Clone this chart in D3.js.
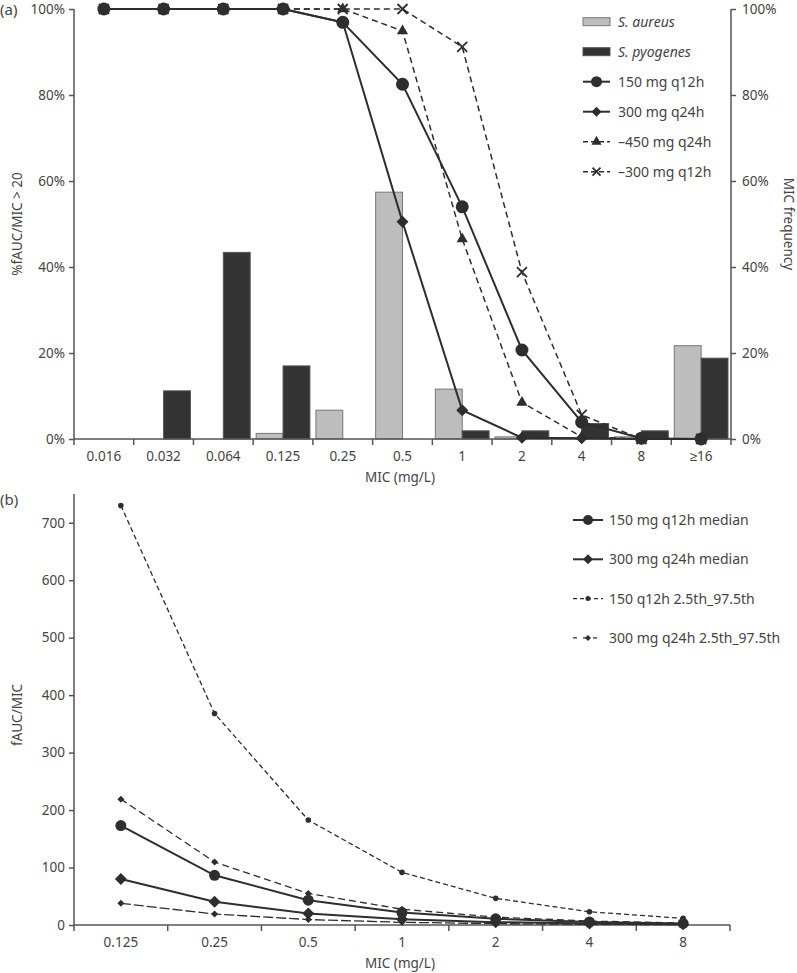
<!DOCTYPE html>
<html>
<head>
<meta charset="utf-8">
<script src="https://cdn.jsdelivr.net/npm/d3@7"></script>
<style>
  body { margin: 0; background: #fff; }
  svg text { font-family: "Noto Sans", "Open Sans", sans-serif; fill: #444; }
</style>
</head>
<body>
<div id="chart"></div>
<script>
// ---- panel (a) data ----
var micA = ["0.016", "0.032", "0.064", "0.125", "0.25", "0.5", "1", "2", "4", "8", "≥16"];
var aureus   = [0, 0, 0, 1.3, 6.7, 57.4, 11.6, 0.5, 0.3, 0.5, 21.7];
var pyogenes = [0, 11.2, 43.4, 17.0, 0, 0, 1.9, 1.9, 3.6, 1.9, 18.8];
var q12h150 = [100, 100, 100, 100, 96.9, 82.5, 54.0, 20.7, 3.9, 0.2, 0];
var q24h300 = [100, 100, 100, 100, 96.9, 50.5, 6.7, 0.3, 0.2, 0, 0];
var q24h450 = [100, 100, 100, 100, 100, 94.9, 46.5, 8.5, 0.5, 0, 0];
var q12h300 = [100, 100, 100, 100, 100, 100, 91.2, 38.8, 5.6, 0, 0];
var pctTicks = [0, 20, 40, 60, 80, 100];

// ---- panel (b) data ----
var micB = ["0.125", "0.25", "0.5", "1", "2", "4", "8"];
var med150 = [173, 86.5, 43.2, 21.6, 10.8, 5.4, 2.7];
var med300 = [80, 40.5, 20, 10, 5, 2.5, 1.25];
var pct150hi = [730, 368, 182.6, 91.6, 46.4, 23, 11.5];
var pct300hi = [219, 109.6, 55, 27.5, 13.7, 6.9, 3.4];
var pct300lo = [37.7, 19, 9.5, 4.7, 2.4, 1.2, 0.6];
var aucTicks = [0, 100, 200, 300, 400, 500, 600, 700];

var ink = "#2e2e2e", axisCol = "#555";

var svg = d3.select("#chart").append("svg")
    .attr("width", 797)
    .attr("height", 973);

// symbols
function marker(g, type, x, y, size) {
    if (type === "circle") {
        g.append("circle").attr("cx", x).attr("cy", y).attr("r", size).style("fill", ink);
    } else if (type === "cross") {
        g.append("path")
            .attr("d", "M" + (x - size) + "," + (y - size) + "L" + (x + size) + "," + (y + size) +
                       "M" + (x - size) + "," + (y + size) + "L" + (x + size) + "," + (y - size))
            .style("stroke", ink).style("stroke-width", 1.8).style("fill", "none");
    } else if (type === "diamond") {
        g.append("path")
            .attr("d", "M" + x + "," + (y - size) + "L" + (x + size) + "," + y +
                       "L" + x + "," + (y + size) + "L" + (x - size) + "," + y + "Z")
            .style("fill", ink);
    } else {
        g.append("path")
            .attr("transform", "translate(" + x + "," + y + ")")
            .attr("d", d3.symbol().type(d3.symbolTriangle).size(size * size * 2.2)())
            .style("fill", ink);
    }
}

// ================= PANEL (a) =================
var xA = d3.scaleBand().domain(micA).range([74, 731]);
var yA = d3.scaleLinear().domain([0, 100]).range([439, 9]);
var bw = xA.bandwidth();

var pa = svg.append("g").attr("class", "panelA");

// bars
pa.selectAll("rect.aur").data(micA).enter().append("rect")
    .attr("class", "aur")
    .attr("x", function(d) { return xA(d) + 3; })
    .attr("width", bw / 2 - 3)
    .attr("y", function(d, i) { return yA(aureus[i]); })
    .attr("height", function(d, i) { return yA(0) - yA(aureus[i]); })
    .style("fill", "#bdbdbd").style("stroke", "#777").style("stroke-width", 1)
    .style("display", function(d, i) { return aureus[i] > 0 ? null : "none"; });

pa.selectAll("rect.pyo").data(micA).enter().append("rect")
    .attr("class", "pyo")
    .attr("x", function(d) { return xA(d) + bw / 2; })
    .attr("width", bw / 2 - 3)
    .attr("y", function(d, i) { return yA(pyogenes[i]); })
    .attr("height", function(d, i) { return yA(0) - yA(pyogenes[i]); })
    .style("fill", "#333").style("stroke", "#555").style("stroke-width", 1)
    .style("display", function(d, i) { return pyogenes[i] > 0 ? null : "none"; });

// axes (a)
var leftA = pa.append("g").attr("transform", "translate(74,0)")
    .call(d3.axisLeft(yA).tickValues(pctTicks).tickSize(5).tickPadding(4)
        .tickFormat(function(d) { return d + "%"; }));
var rightA = pa.append("g").attr("transform", "translate(731,0)")
    .call(d3.axisRight(yA).tickValues(pctTicks).tickSize(5).tickPadding(6)
        .tickFormat(function(d) { return d + "%"; }));
leftA.select(".domain").attr("d", "M0,9V439");
rightA.select(".domain").attr("d", "M0,9V439");

var bottomA = pa.append("g").attr("transform", "translate(0,439)")
    .call(d3.axisBottom(xA).tickSize(0).tickPadding(12));
bottomA.select(".domain").attr("d", "M74,0H731");
pa.selectAll("line.bnd").data(micA.concat(["end"])).enter().append("line")
    .attr("class", "bnd")
    .attr("x1", function(d) { return d === "end" ? 731 : xA(d); })
    .attr("x2", function(d) { return d === "end" ? 731 : xA(d); })
    .attr("y1", 439).attr("y2", 445)
    .style("stroke", axisCol).style("stroke-width", 1.5);

// lines (a)
var cx = function(d, i) { return xA(micA[i]) + bw / 2; };
var lineA = d3.line().x(cx).y(function(d) { return yA(d); });
var seriesA = [
    { v: q12h300, m: "cross", dash: "6,4", s: 5 },
    { v: q24h450, m: "triangle", dash: "6,4", s: 5 },
    { v: q24h300, m: "diamond", dash: null, s: 6 },
    { v: q12h150, m: "circle", dash: null, s: 6.5 }
];
seriesA.forEach(function(s) {
    pa.append("path").datum(s.v).attr("d", lineA)
        .style("fill", "none").style("stroke", ink)
        .style("stroke-width", s.dash ? 1.5 : 2)
        .style("stroke-dasharray", s.dash);
});
seriesA.forEach(function(s) {
    s.v.forEach(function(d, i) { marker(pa, s.m, cx(d, i), yA(d), s.s); });
});

// legend (a)
var legA = [
    { t: "S. aureus", k: "bar", c: "#bdbdbd", sc: "#777" },
    { t: "S. pyogenes", k: "bar", c: "#333", sc: "#555" },
    { t: "150 mg q12h", k: "circle", dash: null, s: 5.5 },
    { t: "300 mg q24h", k: "diamond", dash: null, s: 5 },
    { t: "–450 mg q24h", k: "triangle", dash: "5,3", s: 4.5 },
    { t: "–300 mg q12h", k: "cross", dash: "5,3", s: 4 }
];
legA.forEach(function(l, i) {
    var y = 21.7 + i * 30;
    if (l.k === "bar") {
        pa.append("rect").attr("x", 583).attr("y", y - 4).attr("width", 27).attr("height", 8)
            .style("fill", l.c).style("stroke", l.sc);
    } else {
        pa.append("line").attr("x1", 583).attr("x2", 610).attr("y1", y).attr("y2", y)
            .style("stroke", ink).style("stroke-width", l.dash ? 1.5 : 2)
            .style("stroke-dasharray", l.dash);
        marker(pa, l.k, 596.5, y, l.s);
    }
    pa.append("text").attr("x", 618).attr("y", y).attr("dy", "0.35em")
        .style("font-size", "14px").style("font-style", l.k === "bar" ? "italic" : null)
        .text(l.t);
});

// labels (a)
pa.append("text").attr("x", 0).attr("y", 15).style("font-size", "15px").text("(a)");
pa.append("text").attr("transform", "translate(22,224) rotate(-90)")
    .attr("text-anchor", "middle").style("font-size", "13.5px").text("%fAUC/MIC > 20");
pa.append("text").attr("transform", "translate(784,224) rotate(90)")
    .attr("text-anchor", "middle").style("font-size", "13.5px").text("MIC frequency");
pa.append("text").attr("x", 400).attr("y", 482).attr("text-anchor", "middle")
    .style("font-size", "13.5px").text("MIC (mg/L)");

// ================= PANEL (b) =================
var xB = d3.scaleBand().domain(micB).range([74, 730]);
var yB = d3.scaleLinear().domain([0, 750]).range([925, 494]);
var bwB = xB.bandwidth();
var pb = svg.append("g").attr("class", "panelB");

var leftB = pb.append("g").attr("transform", "translate(74,0)")
    .call(d3.axisLeft(yB).tickValues(aucTicks).tickSize(5).tickPadding(4));
leftB.select(".domain").attr("d", "M0,494V925");
var bottomB = pb.append("g").attr("transform", "translate(0,925)")
    .call(d3.axisBottom(xB).tickSize(0).tickPadding(12));
bottomB.select(".domain").attr("d", "M74,0H730");
pb.selectAll("line.bnd").data(micB.concat(["end"])).enter().append("line")
    .attr("class", "bnd")
    .attr("x1", function(d) { return d === "end" ? 730 : xB(d); })
    .attr("x2", function(d) { return d === "end" ? 730 : xB(d); })
    .attr("y1", 925).attr("y2", 931)
    .style("stroke", axisCol).style("stroke-width", 1.5);

var cxB = function(d, i) { return xB(micB[i]) + bwB / 2; };
var lineB = d3.line().x(cxB).y(function(d) { return yB(d); });
var seriesB = [
    { v: pct150hi, m: "circle", dash: "5,3", s: 2.8, w: 1.3 },
    { v: pct300hi, m: "diamond", dash: "7,4", s: 3.5, w: 1.3 },
    { v: pct300lo, m: "diamond", dash: "10,3", s: 3.5, w: 1.3 },
    { v: med300, m: "diamond", dash: null, s: 6, w: 2 },
    { v: med150, m: "circle", dash: null, s: 5.5, w: 2 }
];
seriesB.forEach(function(s) {
    pb.append("path").datum(s.v).attr("d", lineB)
        .style("fill", "none").style("stroke", ink)
        .style("stroke-width", s.w).style("stroke-dasharray", s.dash);
});
seriesB.forEach(function(s) {
    s.v.forEach(function(d, i) { marker(pb, s.m, cxB(d, i), yB(d), s.s); });
});

// legend (b)
var legB = [
    { t: "150 mg q12h median", k: "circle", dash: null, s: 5 },
    { t: "300 mg q24h median", k: "diamond", dash: null, s: 5 },
    { t: "150 q12h 2.5th_97.5th", k: "circle", dash: "4,3", s: 2.5 },
    { t: "300 mg q24h 2.5th_97.5th", k: "diamond", dash: "4,6", s: 3 }
];
legB.forEach(function(l, i) {
    var y = 520 + i * 39.3;
    pb.append("line").attr("x1", 573).attr("x2", 603).attr("y1", y).attr("y2", y)
        .style("stroke", ink).style("stroke-width", l.dash ? 1.3 : 2)
        .style("stroke-dasharray", l.dash);
    marker(pb, l.k, 588, y, l.s);
    pb.append("text").attr("x", 609).attr("y", y).attr("dy", "0.35em")
        .style("font-size", "14px").text(l.t);
});

pb.append("text").attr("x", 0).attr("y", 505).style("font-size", "15px").text("(b)");
pb.append("text").attr("transform", "translate(22,715) rotate(-90)")
    .attr("text-anchor", "middle").style("font-size", "13.5px").text("fAUC/MIC");
pb.append("text").attr("x", 400).attr("y", 968).attr("text-anchor", "middle")
    .style("font-size", "13.5px").text("MIC (mg/L)");

// common axis styling
svg.selectAll(".domain").style("stroke", axisCol).style("stroke-width", 1.5);
svg.selectAll(".tick line").style("stroke", axisCol).style("stroke-width", 1.5);
svg.selectAll(".tick text").style("font-size", "13.5px").style("fill", "#444")
    .style("font-family", "'Noto Sans', sans-serif");
</script>
</body>
</html>
